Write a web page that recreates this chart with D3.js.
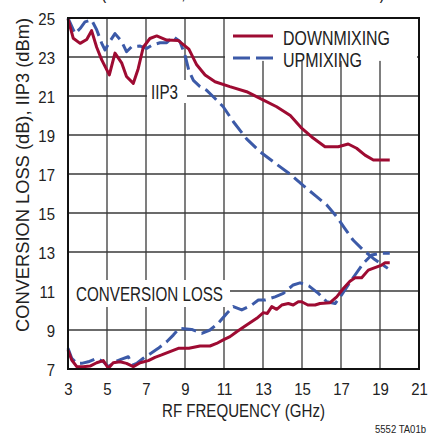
<!DOCTYPE html>
<html><head><meta charset="utf-8">
<script src="https://cdn.jsdelivr.net/npm/d3@7"></script>
<style>
html,body{margin:0;padding:0;background:#fff;}
svg text{font-family:"Liberation Sans",Arial,sans-serif;fill:#222;}
</style></head>
<body>
<svg id="chart" width="429" height="435"></svg>
<script>
// ---- data ----
const xTicks = [3,5,7,9,11,13,15,17,19,21];
const yTicks = [7,9,11,13,15,17,19,21,23,25];
const seriesNames = ["DOWNMIXING","UPMIXING"];

const downIip3Freq = [3.0,3.27,3.62,3.96,4.21,4.47,4.73,5.12,5.41,5.75,6.0,6.35,6.6,6.86,7.2,7.55,8.06,8.66,8.9,9.2,9.6,10.03,10.54,11.3,12.16,13.0,13.7,14.4,14.95,15.5,16.18,16.86,17.37,17.8,18.23,18.66,19.5];
const downIip3 = [24.95,23.96,23.7,23.9,24.35,23.5,22.85,22.08,23.2,22.7,22.0,21.65,22.4,23.5,23.95,24.08,23.87,23.84,23.65,23.4,22.6,22.08,21.73,21.48,21.22,20.8,20.45,20.0,19.38,18.9,18.4,18.4,18.54,18.32,17.97,17.72,17.72];

const upIip3Freq = [3.0,3.36,3.62,3.87,4.21,4.47,4.73,4.9,5.15,5.41,5.75,6.0,6.27,6.7,7.03,7.3,7.72,8.06,8.4,8.74,9.0,9.2,9.43,9.77,10.1,10.45,10.96,11.48,12.16,12.85,13.7,14.38,15.07,15.75,16.27,16.78,17.2,17.63,18.14,18.66,19.4];
const upIip3 = [25.0,24.2,24.46,24.8,24.9,24.4,23.7,23.36,23.8,24.2,23.8,23.27,23.53,23.56,23.44,23.6,23.73,23.73,24.05,23.8,23.1,22.3,21.8,21.48,21.3,20.96,20.45,19.68,18.8,18.14,17.5,17.0,16.4,15.84,15.41,14.81,14.2,13.6,13.1,12.67,12.16];

const downLossFreq = [3.0,3.19,3.45,3.78,4.13,4.47,4.81,5.07,5.32,5.67,6.0,6.35,6.7,7.12,7.46,7.8,8.23,8.66,9.2,9.77,10.28,10.62,10.96,11.31,11.65,12.16,12.68,13.02,13.22,13.45,13.7,13.96,14.3,14.55,14.81,14.98,15.3,15.67,15.92,16.44,16.78,17.12,17.46,17.72,18.06,18.4,18.74,19.09,19.26,19.5];
const downLoss = [7.97,7.46,7.12,7.12,7.15,7.32,7.43,7.04,7.32,7.37,7.29,7.12,7.32,7.43,7.6,7.72,7.89,8.06,8.06,8.18,8.18,8.31,8.49,8.66,8.91,9.26,9.6,9.89,9.85,10.2,10.06,10.28,10.36,10.28,10.45,10.45,10.28,10.28,10.36,10.4,10.7,11.13,11.5,11.68,11.68,12.07,12.2,12.33,12.45,12.45];

const upLossFreq = [3.0,3.19,3.45,3.7,4.04,4.47,4.81,5.07,5.41,5.75,6.09,6.3,6.52,6.86,7.2,7.63,8.06,8.4,8.7,9.34,9.86,10.28,10.7,11.14,11.48,11.91,12.42,12.76,13.1,13.62,14.04,14.55,14.9,15.35,15.84,16.27,16.7,17.03,17.37,17.72,18.14,18.57,19.0,19.5];
const upLoss = [8.06,7.55,7.29,7.29,7.37,7.55,7.37,7.12,7.37,7.51,7.63,7.2,7.29,7.55,7.77,8.06,8.4,8.74,9.08,9.03,8.83,9.0,9.34,9.85,10.2,10.03,10.28,10.54,10.54,10.7,10.88,11.31,11.42,11.26,10.88,10.45,10.36,10.8,11.31,11.82,12.41,12.85,12.93,12.93];

// ---- layout ----
const L = 68, R = 419, T = 18, B = 369;
const RED = "#9e0b32", BLUE = "#3c5aa8";
const svg = d3.select("#chart");
const x = d3.scaleLinear().domain([3,21]).range([L,R]);
const y = d3.scaleLinear().domain([7,25]).range([B,T]);

function fitText(sel, len){ return sel.attr("textLength",len).attr("lengthAdjust","spacingAndGlyphs"); }

// title (mostly cut off at top, as in the reference)
fitText(svg.append("text").attr("x",101).attr("y",-1)
  .style("font-size","20px").text("(fIF = 1GHz, HIGH SIDE LO INJECTION)"), 284);

// grid
const grid = svg.append("g");
grid.selectAll("line.v").data(xTicks.slice(1,-1)).join("line")
  .attr("x1",d=>x(d)).attr("x2",d=>x(d)).attr("y1",T).attr("y2",B)
  .attr("stroke","#3a3a3a").attr("stroke-width",1.3);
grid.selectAll("line.h").data(yTicks.slice(1,-1)).join("line")
  .attr("x1",L).attr("x2",R).attr("y1",d=>y(d)).attr("y2",d=>y(d))
  .attr("stroke","#3a3a3a").attr("stroke-width",1.3);

// white label boxes
svg.append("rect").attr("x",x(11)+1).attr("y",T).attr("width",R-x(11)-3).attr("height",y(22.8)-T).attr("fill","#fff");
svg.append("rect").attr("x",147).attr("y",80).attr("width",40).attr("height",23).attr("fill","#fff");
svg.append("rect").attr("x",L+1).attr("y",280).attr("width",161).attr("height",27).attr("fill","#fff");

// lines
const line = d3.line().x(d=>x(d[0])).y(d=>y(d[1])).curve(d3.curveLinear);
const zip = (a,b)=>a.map((v,i)=>[v,b[i]]);
const series = [
  {xs:upIip3Freq, ys:upIip3, c:BLUE, dash:"15,6"},
  {xs:upLossFreq, ys:upLoss, c:BLUE, dash:"15,6"},
  {xs:downIip3Freq, ys:downIip3, c:RED, dash:null},
  {xs:downLossFreq, ys:downLoss, c:RED, dash:null}
];
svg.append("g").selectAll("path").data(series).join("path")
  .attr("d",d=>line(zip(d.xs,d.ys)))
  .attr("fill","none").attr("stroke",d=>d.c).attr("stroke-width",3)
  .attr("stroke-linejoin","round")
  .attr("stroke-dasharray",d=>d.dash);

// frame
svg.append("rect").attr("x",L).attr("y",T).attr("width",R-L).attr("height",B-T)
  .attr("fill","none").attr("stroke","#111").attr("stroke-width",2);

// axes tick labels
const xa = d3.axisBottom(x).tickValues(xTicks).tickSize(0);
const gx = svg.append("g").attr("transform",`translate(0,${B})`).call(xa);
gx.select(".domain").remove();
gx.selectAll("text").attr("y",26).attr("dy",null).attr("transform","scale(0.88,1)")
  .style("font-size","17px").attr("fill","#222");
const ya = d3.axisLeft(y).tickValues(yTicks).tickSize(0);
const gy = svg.append("g").attr("transform",`translate(${L},0)`).call(ya);
gy.select(".domain").remove();
gy.selectAll("text").attr("x",-14.8).attr("dy","0.36em").attr("transform","scale(0.88,1)")
  .style("font-size","17px").attr("fill","#222");

// legend
const leg = svg.append("g");
const legY = [36,58];
const legW = [107,79];
seriesNames.forEach((n,i)=>{
  leg.append("line").attr("x1",233).attr("x2",273).attr("y1",legY[i]).attr("y2",legY[i])
    .attr("stroke",i===0?RED:BLUE).attr("stroke-width",3)
    .attr("stroke-dasharray",i===0?null:"17,6");
  fitText(leg.append("text").attr("x",283).attr("y",legY[i]+9).style("font-size","19.5px").text(n), legW[i]);
});

// in-plot labels
fitText(svg.append("text").attr("x",151).attr("y",99).style("font-size","21px").text("IIP3"), 27);
fitText(svg.append("text").attr("x",76).attr("y",301).style("font-size","21px").text("CONVERSION LOSS"), 147);

// axis titles
fitText(svg.append("text").attr("x",162).attr("y",417)
  .style("font-size","18px").text("RF FREQUENCY (GHz)"), 163);
fitText(svg.append("text").attr("transform","translate(29,332) rotate(-90)")
  .style("font-size","18px").text("CONVERSION LOSS (dB), IIP3 (dBm)"), 314);

// footnote
fitText(svg.append("text").attr("x",375).attr("y",433)
  .style("font-size","10px").text("5552 TA01b"), 51);
</script>
</body></html>
